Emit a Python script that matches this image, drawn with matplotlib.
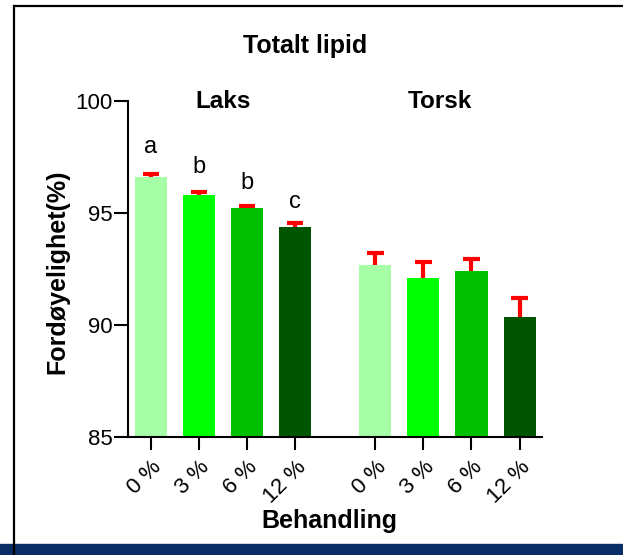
import numpy as np
import matplotlib.pyplot as plt
from matplotlib.lines import Line2D
from matplotlib.patches import Rectangle

plt.rcParams['font.family'] = ['Liberation Sans', 'DejaVu Sans']

groups = ["Laks", "Torsk"]
tick_labels = ["0 %", "3 %", "6 %", "12 %", "0 %", "3 %", "6 %", "12 %"]
laks_mean = [96.6, 95.8, 95.24, 94.38]
laks_err = [0.12, 0.16, 0.06, 0.19]
torsk_mean = [92.68, 92.1, 92.41, 90.36]
torsk_err = [0.55, 0.73, 0.55, 0.86]
letters = ["a", "b", "b", "c"]
letter_y = [97.45, 96.55, 95.85, 95.0]
colors = ["#a6ffa6", "#00ff00", "#00c000", "#005500"]

means = np.array(laks_mean + torsk_mean)
errs = np.array(laks_err + torsk_err)
x = np.array([0, 1, 2, 3, 4.67, 5.67, 6.67, 7.67])

fig = plt.figure(figsize=(6.23, 5.55), dpi=100)
ax = fig.add_axes([0.2054, 0.2126, 0.664, 0.6054])

ax.bar(x, means - 85, bottom=85, width=0.667, color=colors * 2, zorder=2)
# upper error bars only
ax.vlines(x, means, means + errs, color='red', lw=3, zorder=1)
ax.hlines(means + errs, x - 0.17, x + 0.17, color='red', lw=3, zorder=1)

for i, l in enumerate(letters):
    ax.text(x[i], letter_y[i], l, ha='center', va='bottom', fontsize=17)

ax.set_xlim(-0.48, 8.13)
ax.set_ylim(85, 100)
ax.set_yticks([85, 90, 95, 100])
ax.set_xticks(x)
ax.set_xticklabels(tick_labels, rotation=45, ha='right', rotation_mode='anchor', fontsize=16)
ax.tick_params(axis='y', labelsize=16, length=10, width=1.5, pad=1)
ax.tick_params(axis='x', length=9, width=1.5, pad=5)
for s in ['top', 'right']:
    ax.spines[s].set_visible(False)
for s in ['left', 'bottom']:
    ax.spines[s].set_linewidth(1.5)

fig.text(305 / 623, 1 - 46 / 555, "Totalt lipid", ha='center', va='center', fontsize=18, fontweight='bold')
fig.text(223 / 623, 1 - 101 / 555, groups[0], ha='center', va='center', fontsize=17.5, fontweight='bold')
fig.text(440 / 623, 1 - 101 / 555, groups[1], ha='center', va='center', fontsize=17.5, fontweight='bold')
fig.text(57 / 623, 1 - 272 / 555, "Fordøyelighet(%)", ha='center', va='center', rotation=90,
         fontsize=18, fontweight='bold')
fig.text(329 / 623, 1 - 521 / 555, "Behandling", ha='center', va='center', fontsize=18, fontweight='bold')

# frame and bottom band
fig.add_artist(Line2D([14 / 623, 14 / 623], [0, 1 - 6 / 555], color='black', lw=1.6))
fig.add_artist(Line2D([14 / 623, 1], [1 - 6 / 555, 1 - 6 / 555], color='black', lw=1.6))
fig.add_artist(Rectangle((0, 0), 1, 11 / 555, color='#0a2d66', transform=fig.transFigure))

fig.savefig("out.png", dpi=100)
